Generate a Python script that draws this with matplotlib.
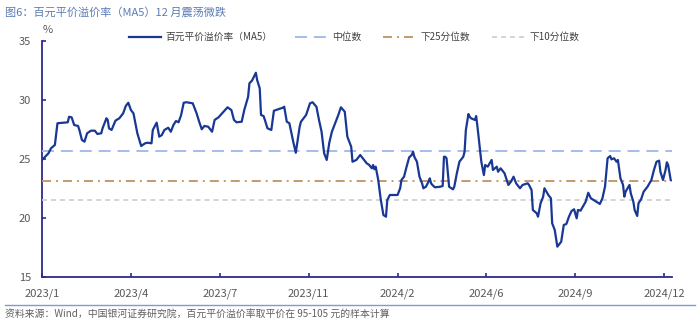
import matplotlib
matplotlib.use("Agg")
import matplotlib.pyplot as plt
from matplotlib.lines import Line2D

plt.rcParams['font.family'] = ['Noto Sans CJK SC', 'DejaVu Sans']
plt.rcParams['lines.scale_dashes'] = False

# trading-day index and MA5 premium rate (%)
days = [0, 5, 7, 10, 12, 20, 21, 23, 25, 28, 29, 31, 33, 35, 38, 41, 43, 46, 47, 50,
        51, 52, 54, 57, 60, 63, 65, 67, 69, 71, 73, 74, 77, 80, 82, 85, 86, 88, 89, 91,
        93, 95, 98, 100, 102, 104, 106, 108, 110, 112, 117, 120, 122, 124, 126, 129, 132, 134, 137, 141,
        144, 147, 149, 151, 155, 157, 160, 161, 163, 166, 167, 169, 170, 172, 173, 175, 178, 180, 187, 188,
        190, 192, 195, 197, 200, 201, 203, 205, 208, 210, 213, 215, 217, 219, 221, 223, 225, 227, 230, 232,
        235, 237, 240, 241, 244, 247, 249, 252, 254, 256, 257, 258, 259, 261, 263, 265, 267, 268, 270, 276,
        278, 279, 281, 283, 285, 287, 288, 289, 291, 293, 295, 296, 298, 300, 301, 302, 303, 305, 309, 311,
        312, 313, 314, 316, 319, 320, 322, 324, 327, 328, 329, 331, 332, 333, 336, 337, 338, 340, 341, 343,
        344, 346, 349, 350, 353, 354, 356, 359, 362, 364, 366, 368, 371, 373, 377, 378, 380, 381, 384, 385,
        387, 389, 390, 393, 395, 396, 398, 400, 403, 405, 407, 409, 411, 413, 415, 416, 418, 422, 424, 426,
        429, 433, 435, 437, 439, 441, 442, 444, 446, 447, 449, 451, 452, 453, 456, 457, 459, 460, 462, 463,
        465, 467, 470, 473, 475, 477, 479, 480, 482, 484, 485, 486, 488]
premium = [24.92, 25.48, 25.91, 26.19, 28.03, 28.11, 28.58, 28.53, 27.88, 27.80, 27.46, 26.61, 26.47, 27.18, 27.40, 27.40, 27.12, 27.18, 27.60, 28.45,
           28.31, 27.60, 27.46, 28.25, 28.45, 28.87, 29.49, 29.77, 29.15, 28.87, 27.74, 27.18, 26.10, 26.33, 26.38, 26.33, 27.46, 27.88, 28.08, 26.89,
           27.03, 27.46, 27.65, 27.31, 27.88, 28.22, 28.11, 28.73, 29.77, 29.81, 29.72, 28.87, 28.16, 27.52, 27.80, 27.74, 27.31, 28.31, 28.53, 29.01,
           29.38, 29.15, 28.31, 28.11, 28.16, 29.15, 30.28, 31.42, 31.64, 32.31, 31.69, 30.99, 28.73, 28.64, 28.31, 27.60, 27.46, 29.09, 29.35, 29.43,
           28.16, 28.03, 26.47, 25.53, 27.74, 28.16, 28.45, 28.73, 29.72, 29.81, 29.43, 28.31, 27.31, 25.48, 24.92, 26.38, 27.31, 27.88, 28.73, 29.38,
           29.01, 26.89, 26.04, 24.77, 24.92, 25.34, 25.06, 24.64, 24.49, 24.21, 24.49, 24.13, 24.35, 23.22, 21.53, 20.25, 20.11, 21.53, 21.95, 21.95,
           22.52, 23.22, 23.50, 24.35, 25.14, 25.34, 25.62, 25.19, 24.77, 23.50, 22.94, 22.52, 22.65, 23.08, 23.36, 22.94, 22.80, 22.60, 22.65, 22.71,
           25.19, 25.19, 25.06, 22.65, 22.43, 22.65, 23.79, 24.77, 25.19, 25.62, 27.46, 28.81, 28.58, 28.45, 28.31, 28.64, 27.74, 25.76, 24.77, 23.64,
           24.49, 24.35, 24.92, 24.07, 24.35, 23.92, 24.21, 23.79, 22.80, 23.08, 23.50, 22.94, 22.52, 22.80, 22.94, 22.80, 22.37, 20.68, 20.40, 20.11,
           21.25, 21.81, 22.52, 21.95, 21.67, 19.55, 18.98, 17.57, 17.99, 19.41, 19.49, 20.11, 20.59, 20.74, 19.97, 20.68, 20.62, 21.38, 22.14, 21.67,
           21.47, 21.19, 21.67, 22.65, 25.06, 25.25, 24.97, 25.06, 24.77, 24.92, 23.36, 22.80, 21.81, 22.23, 22.80, 22.09, 21.38, 20.68, 20.17, 21.25,
           21.58, 22.23, 22.65, 23.22, 24.07, 24.77, 24.86, 23.92, 23.22, 24.07, 24.72, 24.49, 23.22]

median_level = 25.7
p25_level = 23.1
p10_level = 21.5

tick_days = [0, 69, 138, 207, 276, 345, 414, 483]
tick_labels = ['2023/1', '2023/4', '2023/7', '2023/11', '2024/2', '2024/6', '2024/9', '2024/12']
yticks = [15, 20, 25, 30, 35]

title = '图6：百元平价溢价率（MA5）12 月震荡微跌'
source = '资料来源：Wind，中国银河证券研究院，百元平价溢价率取平价在 95-105 元的样本计算'
labels = ['百元平价溢价率（MA5）', '中位数', '下25分位数', '下10分位数']

W, H = 700, 324
fig = plt.figure(figsize=(7, 3.24), dpi=100)
ax = fig.add_axes([42 / W, 1 - 277 / H, 630 / W, 236 / H])

main_c = '#183894'
med_c = '#A3BDEB'
p25_c = '#C29B6C'
p10_c = '#CDCDCD'
spine_c = '#2E2A8E'

ax.plot(days, premium, color=main_c, lw=1.6, zorder=5)
ax.axhline(median_level, color=med_c, lw=1.4, dashes=(8.6, 5.0), zorder=3)
ax.axhline(p25_level, color=p25_c, lw=1.4, dashes=(6.5, 3.6, 1.4, 3.6), zorder=3)
ax.axhline(p10_level, color=p10_c, lw=1.2, dashes=(3.6, 2.9), zorder=3)

ax.set_xlim(0, 489)
ax.set_ylim(15, 35)
ax.set_xticks(tick_days)
ax.set_xticklabels(tick_labels)
ax.set_yticks(yticks)
for s in ['top', 'right']:
    ax.spines[s].set_visible(False)
for s in ['left', 'bottom']:
    ax.spines[s].set_color(spine_c)
    ax.spines[s].set_linewidth(1.3)
ax.tick_params(axis='both', direction='in', length=3, width=1.2, color=spine_c,
               labelsize=8, labelcolor='#595959')
ax.tick_params(axis='x', pad=8)
ax.tick_params(axis='y', pad=8)

fig.text(48 / W, 1 - 30 / H, '%', fontsize=8, color='#595959', ha='center', va='center')

handles = [
    Line2D([], [], color=main_c, lw=1.6),
    Line2D([], [], color=med_c, lw=1.4, dashes=(8.6, 5.0)),
    Line2D([], [], color=p25_c, lw=1.4, dashes=(6.5, 3.6, 1.4, 3.6)),
    Line2D([], [], color=p10_c, lw=1.2, dashes=(3.6, 2.9)),
]
leg = fig.legend(handles, labels, loc='center', bbox_to_anchor=(354 / W, 1 - 37 / H),
                 ncol=4, frameon=False, fontsize=7, handlelength=3.3,
                 handletextpad=0.5, columnspacing=2.3)
for t in leg.get_texts():
    t.set_color('#404040')

fig.text(5 / W, 1 - 12 / H, title, fontsize=8, color='#5B7BB4', ha='left', va='center')
fig.add_artist(Line2D([5 / W, 695 / W], [1 - 305 / H, 1 - 305 / H], color='#7F9CD0', lw=1.0))
fig.text(5 / W, 1 - 314 / H, source, fontsize=7.1, color='#606060', ha='left', va='center',
         style='italic')

fig.savefig('out.png', dpi=100)
